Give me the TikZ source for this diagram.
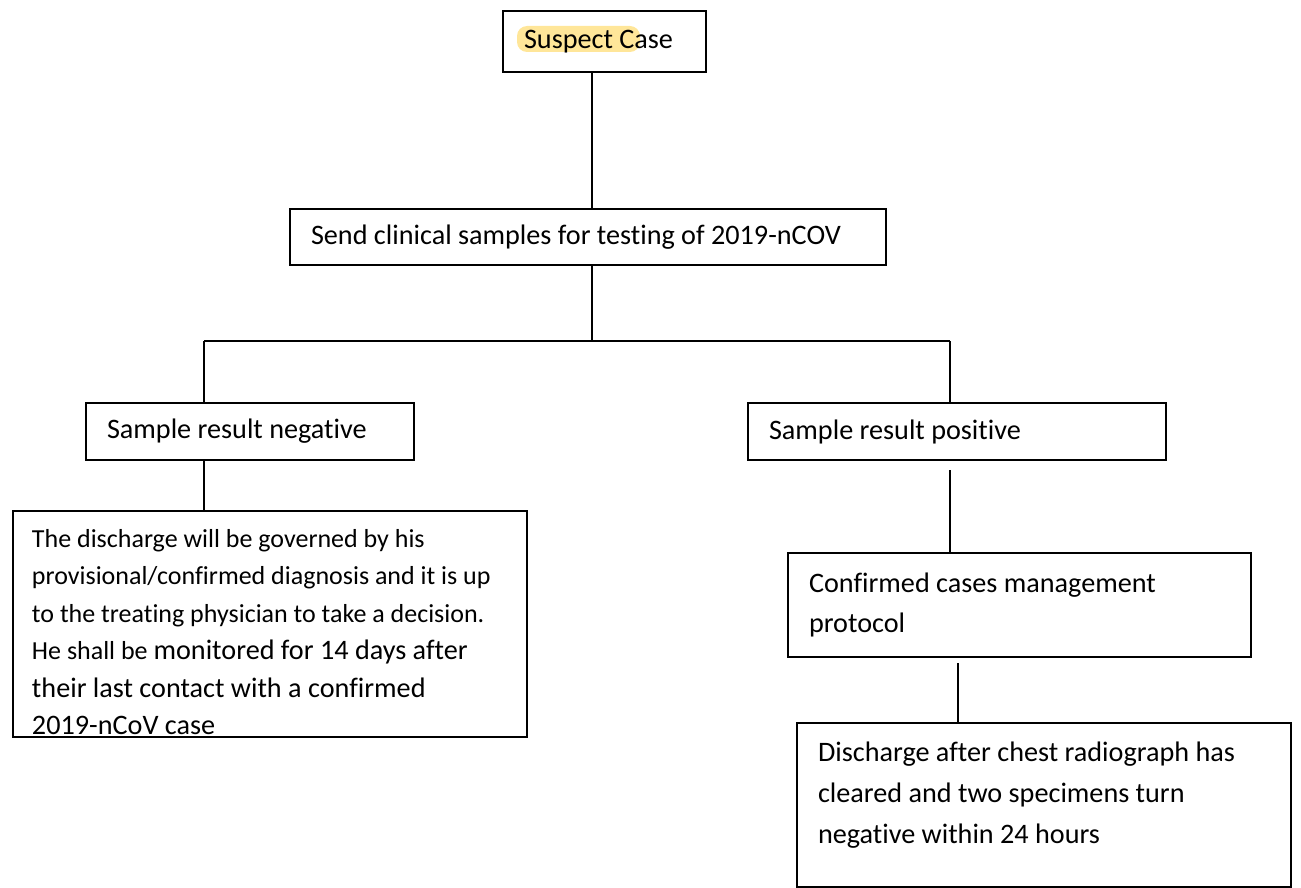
\documentclass[tikz,border=0pt]{standalone}
\usepackage{fontspec}
\setmainfont{Carlito}[Ligatures=NoCommon]
\definecolor{hilite}{HTML}{FFE699}

\begin{document}
\begin{tikzpicture}[x=0.5pt,y=-0.5pt,
    box/.style={draw,line width=1pt,anchor=north west,align=flush left,
      inner xsep=10.5pt,inner ysep=0pt,font=\fontsize{14.1}{20}\selectfont},
    link/.style={line width=0.75pt}]
  \useasboundingbox (0,0) rectangle (1301,888);
  \fill[hilite,rounded corners=5pt] (517,26) rectangle (640,52);

  \node[box,text width=80.5pt,minimum height=30.5pt] (suspect) at (502,10) {Suspect Case};
  \node[box,text width=277pt,minimum height=28pt] (send) at (289,208)
    {Send clinical samples for testing of 2019-nCOV};
  \node[box,text width=143pt,minimum height=28.5pt] (neg) at (85,402) {Sample result negative};
  \node[box,text width=188pt,minimum height=28.5pt] (pos) at (747,402) {Sample result positive};
  \node[box,text width=238pt,inner xsep=9.5pt,minimum height=113pt,
        font=\fontsize{13}{18.75}\selectfont] (disch) at (12,510)
    {\rule{0pt}{17pt}The discharge will be governed by his\\
     provisional/confirmed diagnosis and it is up\\
     to the treating physician to take a decision.\\
     He shall be \fontsize{14.1}{18.75}\selectfont monitored for 14 days after\\
     their last contact with a confirmed\\
     2019-nCoV case};
  \node[box,text width=210.5pt,minimum height=52pt] (conf) at (787,552)
    {Confirmed cases management\\ protocol};
  \node[box,text width=226pt,minimum height=82pt,font=\fontsize{14.1}{20.5}\selectfont] (final) at (796,722)
    {Discharge after chest radiograph has\\
     cleared and two specimens turn\\
     negative within 24 hours\rule[-12pt]{0pt}{12pt}};

  \coordinate (jm) at (592,341);
  \coordinate (jl) at (204,341);
  \coordinate (jr) at (950,341);
  \coordinate (jf) at (958,700);

  \draw[link] (suspect.south -| jm) -- (send.north -| jm);
  \draw[link] (send.south -| jm) -- (jm);
  \draw[link] (jl) -- (jr);
  \draw[link] (jl) -- (neg.north -| jl);
  \draw[link] (jr) -- (pos.north -| jr);
  \draw[link] (neg.south -| jl) -- (disch.north -| jl);
  \draw[link,shorten <=4.5pt] (pos.south -| jr) -- (conf.north -| jr);
  \draw[link,shorten <=2.5pt] (conf.south -| jf) -- (final.north -| jf);
\end{tikzpicture}
\end{document}
